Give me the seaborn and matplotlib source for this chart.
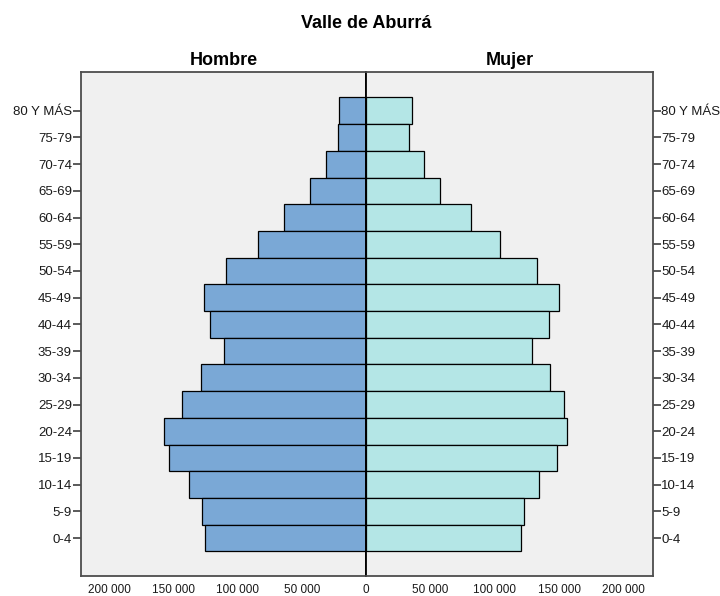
import matplotlib
matplotlib.use("Agg")
import matplotlib.pyplot as plt
import pandas as pd
import seaborn as sns

# --- DATA ---
grupos = ["80 Y MÁS", "75-79", "70-74", "65-69", "60-64", "55-59", "50-54",
          "45-49", "40-44", "35-39", "30-34", "25-29", "20-24", "15-19",
          "10-14", "5-9", "0-4"]
hombre = [20800, 22000, 31400, 43300, 63800, 84300, 109000, 126000, 121400,
          111000, 128400, 143700, 157700, 153800, 138000, 128200, 125300]
mujer = [35500, 33700, 45100, 57300, 81500, 104300, 132800, 150000, 142200,
         129000, 142600, 153300, 156200, 148400, 134400, 122700, 120100]
ticks = [0, 50000, 100000, 150000, 200000]

df = pd.DataFrame({"grupo": grupos, "hombre": hombre, "mujer": mujer})

sns.set_theme(style="white")
plt.rcParams["font.family"] = ["Liberation Sans", "DejaVu Sans"]

BG = "#f0f0f0"
FRAME = "#4d4d4d"
XMAX = 222500

fig = plt.figure(figsize=(7.2, 5.96), dpi=100)
W, H = 720, 596
left_px, mid_px, right_px = 80.7, 366, 652.7
top_px, bot_px = 72, 576
ax_l = fig.add_axes([left_px / W, 1 - bot_px / H, (mid_px - left_px) / W, (bot_px - top_px) / H])
ax_r = fig.add_axes([mid_px / W, 1 - bot_px / H, (right_px - mid_px) / W, (bot_px - top_px) / H])

sns.barplot(data=df, y="grupo", x="hombre", ax=ax_l, color="#7aa8d6",
            width=1.0, edgecolor="black", linewidth=0.9, saturation=1)
sns.barplot(data=df, y="grupo", x="mujer", ax=ax_r, color="#b4e6e6",
            width=1.0, edgecolor="black", linewidth=0.9, saturation=1)

n = len(grupos)
for ax in (ax_l, ax_r):
    ax.set_facecolor(BG)
    ax.set_ylim(n - 1 + 1.42, -1.45)
    ax.set_xlabel("")
    ax.set_ylabel("")
    for s in ax.spines.values():
        s.set_color(FRAME)
        s.set_linewidth(1.3)
    ax.tick_params(axis="y", direction="out", length=6, width=1.3,
                   color=FRAME, labelsize=9.5, labelcolor="#1a1a1a", pad=0.3)
    ax.tick_params(axis="x", direction="out", length=5, width=1.3,
                   color=FRAME, labelsize=8.5, labelcolor="#1a1a1a", pad=1)

ax_l.set_xlim(XMAX, 0)
ax_r.set_xlim(0, XMAX)

fmt = lambda v: f"{v:,}".replace(",", " ")
ax_l.set_xticks(ticks)
ax_l.set_xticklabels([fmt(v) for v in ticks])
ax_r.set_xticks(ticks[1:])
ax_r.set_xticklabels([fmt(v) for v in ticks[1:]])

ax_l.yaxis.tick_left()
ax_r.yaxis.tick_right()
ax_r.set_yticks(range(n))
ax_r.set_yticklabels(grupos)

ax_l.spines["right"].set_color("black")
ax_l.spines["right"].set_zorder(5)
ax_r.spines["left"].set_color("black")

fig.text((left_px + mid_px) / 2 / W, 1 - 65 / H, "Hombre", ha="center",
         va="baseline", fontsize=13, fontweight="bold", color="black")
fig.text((mid_px + right_px) / 2 / W, 1 - 65 / H, "Mujer", ha="center",
         va="baseline", fontsize=13, fontweight="bold", color="black")
fig.text(mid_px / W, 1 - 28 / H, "Valle de Aburrá", ha="center",
         va="baseline", fontsize=13, fontweight="bold", color="black")

fig.savefig("out.png", dpi=100, facecolor="white")
